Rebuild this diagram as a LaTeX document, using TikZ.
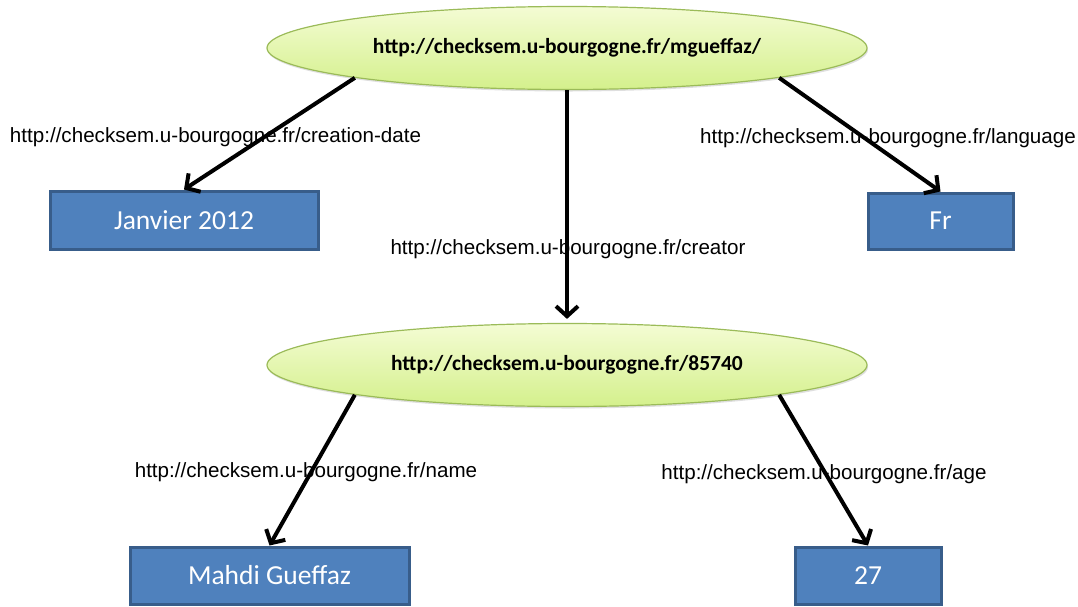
\documentclass[tikz,border=0pt]{standalone}
\usepackage{fontspec}
\setmainfont{Carlito}
\newfontfamily\lblfont{Liberation Sans}
\usetikzlibrary{shapes.geometric,arrows.meta,shadows}
\definecolor{boxfill}{RGB}{79,129,189}
\definecolor{boxline}{RGB}{56,93,138}
\definecolor{ellline}{RGB}{155,187,89}
\definecolor{elltop}{RGB}{244,252,212}
\definecolor{ellbot}{RGB}{212,240,140}
\tikzset{
  uri/.style={ellipse, draw=ellline, line width=1.2pt, top color=elltop, bottom color=ellbot,
    minimum width=600pt, minimum height=83pt, inner sep=0pt,
    font=\fontsize{21.5}{26}\selectfont\bfseries,
    drop shadow={shadow xshift=1pt, shadow yshift=-2pt, opacity=0.25}},
  lit/.style={rectangle, draw=boxline, line width=3pt, fill=boxfill, text=white,
    inner sep=0pt, font=\fontsize{27.5}{32}\selectfont,
    drop shadow={shadow xshift=1pt, shadow yshift=-2pt, opacity=0.25}},
  prop/.style={font=\lblfont\fontsize{20.6}{24}\selectfont, inner sep=0pt, anchor=center},
  edge/.style={line width=4pt, -{Straight Barb[length=10pt,width=22pt,line width=4pt]}}
}
\begin{document}
\begin{tikzpicture}[x=1pt,y=-1pt]
\useasboundingbox (0,0) rectangle (1078,606);
% resource nodes
\node[uri] (top) at (567,48) {http://checksem.u-bourgogne.fr/mgueffaz/};
\node[uri] (bot) at (567,365) {http://checksem.u-bourgogne.fr/85740};
% literal nodes
\node[lit, minimum width=268pt, minimum height=58pt] (jan) at (184,220) {Janvier 2012};
\node[lit, minimum width=145pt, minimum height=56pt] (fr) at (940.5,221) {Fr};
\node[lit, minimum width=279pt, minimum height=57pt] (mg) at (269.5,575.5) {Mahdi Gueffaz};
\node[lit, minimum width=146pt, minimum height=57pt] (age) at (868,575.5) {27};
% property labels
\node[prop] (l1) at (215.5,137) {http://checksem.u-bourgogne.fr/creation-date};
\node[prop] (l2) at (568,249) {http://checksem.u-bourgogne.fr/creator};
\node[prop] (l3) at (888,138) {http://checksem.u-bourgogne.fr/language};
\node[prop] (l4) at (306,472) {http://checksem.u-bourgogne.fr/name};
\node[prop] (l5) at (824,474) {http://checksem.u-bourgogne.fr/age};
% edges
\draw[edge] (top.188.5) -- (jan.north);
\draw[edge, shorten >=4pt] (top.south) -- (bot.north);
\draw[edge] (top.352.8) -- (fr.north);
\draw[edge] (bot.188.5) -- (mg.north);
\draw[edge] (bot.352.8) -- (age.north);
\end{tikzpicture}
\end{document}
